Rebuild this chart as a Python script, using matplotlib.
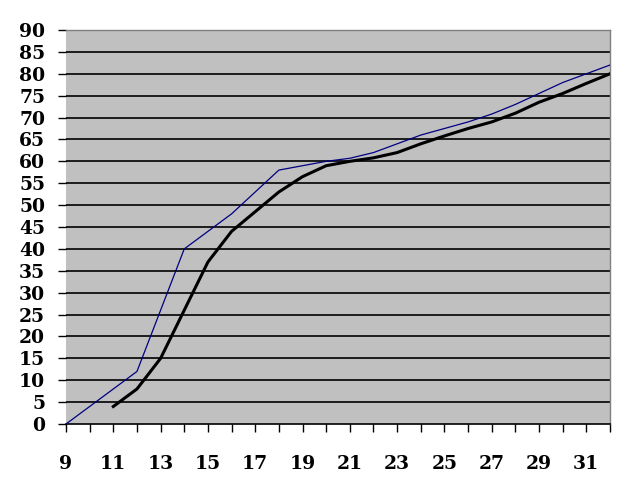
import matplotlib.pyplot as plt

# values
blue_x = [9, 12, 14, 16, 18, 19, 20, 21, 22, 23, 24, 25, 26, 27, 28, 29, 30, 31, 32]
blue_y = [0, 12, 40, 48, 58, 59, 60, 60.7, 62, 64, 66, 67.5, 69, 70.8, 73, 75.5, 78, 80, 82]

black_x = [11, 12, 13, 14, 15, 16, 17, 18, 19, 20, 21, 22, 23, 24, 25, 26, 27, 28, 29, 30, 31, 32]
black_y = [4, 8, 15, 26, 37, 44, 48.5, 53, 56.5, 59, 60, 60.8, 62, 64, 65.8, 67.5, 69, 71, 73.5, 75.5, 77.8, 80]

x_ticks = list(range(9, 33))
x_labels = [str(t) if t % 2 == 1 else '' for t in x_ticks]
y_ticks = list(range(0, 95, 5))

plt.rcParams['font.family'] = ['DejaVu Serif']

fig = plt.figure(figsize=(6.32, 4.98), dpi=100)
ax = fig.add_axes([66 / 632, 1 - 424 / 498, (610 - 66) / 632, (424 - 30) / 498])
ax.set_facecolor('#c0c0c0')

for y in y_ticks[1:-1]:
    ax.axhline(y, color='black', lw=1.2, zorder=1)

ax.plot(blue_x, blue_y, color='#000080', lw=0.9, zorder=3)
ax.plot(black_x, black_y, color='black', lw=2.2, zorder=3)

ax.set_xlim(9, 32)
ax.set_ylim(0, 90)
ax.set_xticks(x_ticks)
ax.set_xticklabels(x_labels)
ax.set_yticks(y_ticks)

for side in ['top', 'right']:
    ax.spines[side].set_color('#808080')
    ax.spines[side].set_linewidth(1)
ax.spines['left'].set_visible(False)
ax.spines['bottom'].set_color('black')
ax.spines['bottom'].set_linewidth(1.2)

ax.tick_params(axis='y', length=6, width=1, pad=9, labelsize=13.5)
ax.tick_params(axis='x', length=6, width=1, pad=16, labelsize=13.5)
for lab in ax.get_xticklabels() + ax.get_yticklabels():
    lab.set_fontweight('bold')

fig.savefig('out.png', dpi=100)
